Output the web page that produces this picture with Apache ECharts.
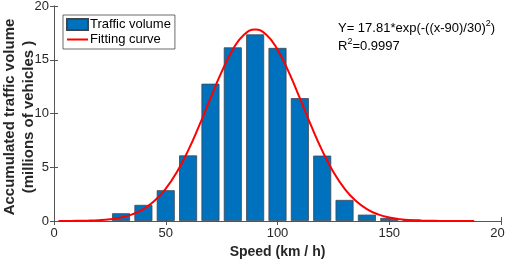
<!DOCTYPE html>
<html>
<head>
<meta charset="utf-8">
<script src="https://cdn.jsdelivr.net/npm/echarts@6/dist/echarts.min.js"></script>
<style>
  html, body { margin: 0; padding: 0; background: #fff; }
  #chart { width: 505px; height: 260px; }
</style>
</head>
<body>
<div id="chart"></div>
<script>
// bar data (speed bins, km/h) and volume in millions of vehicles
var speeds = [30, 40, 50, 60, 70, 80, 90, 100, 110, 120, 130, 140, 150, 160, 170];
var volumes = [0.72, 1.5, 2.86, 6.1, 12.77, 16.15, 17.36, 16.1, 11.43, 6.08, 1.96, 0.59, 0.28, 0.14, 0.06];

// fitted curve points
var curveSpeed = [2, 5, 10, 15, 20, 25, 30, 35, 40, 45, 50, 55, 60, 65, 70, 75, 80, 85, 90,
  95, 100, 105, 110, 115, 120, 125, 130, 135, 140, 145, 150, 155, 160, 165, 170, 175, 180, 185, 188];
var curveValue = [0.003, 0.006, 0.015, 0.034, 0.077, 0.163, 0.326, 0.618, 1.107, 1.877, 3.01, 4.567, 6.552, 8.894, 11.42, 13.87, 15.94, 17.32, 17.81,
  17.32, 15.94, 13.87, 11.42, 8.894, 6.552, 4.567, 3.01, 1.877, 1.107, 0.618, 0.326, 0.163, 0.077, 0.034, 0.015, 0.006, 0.002, 0.001, 0.0004];

var xTicks = [0, 50, 100, 150, 200];
var yTicks = [0, 5, 10, 15, 20];

var font = "Liberation Sans, Arial, sans-serif";
var chart = echarts.init(document.getElementById("chart"));

var barData = speeds.map(function (s, i) { return [s, volumes[i]]; });
var curveData = curveSpeed.map(function (s, i) { return [s, curveValue[i]]; });

var axisLine = { show: true, lineStyle: { color: "#555", width: 1 } };
var tick = { show: true, inside: true, length: 4, lineStyle: { color: "#555" } };

// thin line icon; the corner dots keep the path box at full item size
var lineIcon = "path://M0,0h0.01v0.01h-0.01Z M0,4.6H21V6.4H0Z M20.99,10.99h0.01v0.01h-0.01Z";

var option = {
  animation: false,
  grid: { left: 54, right: 4, top: 6, bottom: 39, containLabel: false, outerBoundsMode: "none" },
  legend: {
    orient: "vertical",
    left: 63,
    top: 15,
    padding: [3, 4, 3, 3],
    itemGap: 2,
    itemWidth: 21,
    itemHeight: 11,
    borderColor: "#444",
    borderWidth: 0.8,
    textStyle: { fontFamily: font, fontSize: 13, color: "#000", padding: [0, 0, 0, -3] },
    data: [
      { name: "Traffic volume", icon: "rect" },
      { name: "Fitting curve", icon: lineIcon }
    ]
  },
  xAxis: [
    {
      type: "value",
      min: xTicks[0],
      max: xTicks[xTicks.length - 1],
      interval: 50,
      position: "bottom",
      name: "Speed (km / h)",
      nameLocation: "middle",
      nameGap: 20,
      nameTextStyle: { fontFamily: font, fontSize: 14, fontWeight: "bold", color: "#262626" },
      axisLine: axisLine,
      axisTick: tick,
      splitLine: { show: false },
      axisLabel: { fontFamily: font, fontSize: 13, color: "#262626", margin: 6 }
    },
    {
      type: "value",
      min: xTicks[0],
      max: xTicks[xTicks.length - 1],
      interval: 50,
      position: "top",
      axisLine: axisLine,
      axisTick: tick,
      splitLine: { show: false },
      axisLabel: { show: false }
    }
  ],
  yAxis: [
    {
      type: "value",
      min: yTicks[0],
      max: yTicks[yTicks.length - 1],
      interval: 5,
      position: "left",
      axisLine: axisLine,
      axisTick: tick,
      splitLine: { show: false },
      axisLabel: { fontFamily: font, fontSize: 13, color: "#262626", margin: 5 }
    },
    {
      type: "value",
      min: yTicks[0],
      max: yTicks[yTicks.length - 1],
      interval: 5,
      position: "right",
      axisLine: axisLine,
      axisTick: tick,
      splitLine: { show: false },
      axisLabel: { show: false }
    }
  ],
  series: [
    {
      name: "Traffic volume",
      type: "bar",
      data: barData,
      barWidth: 18,
      itemStyle: { color: "#0072BD", borderColor: "#3c4650", borderWidth: 0.8 }
    },
    {
      name: "Fitting curve",
      type: "line",
      data: curveData,
      smooth: true,
      symbol: "none",
      lineStyle: { color: "#FF0000", width: 2 },
      itemStyle: { color: "#FF0000" }
    }
  ],
  graphic: [
    {
      // y axis title, two lines, rotated
      type: "text",
      x: 19,
      y: 117,
      rotation: Math.PI / 2,
      style: {
        text: "Accumulated traffic volume\n(millions of vehicles )",
        fontFamily: font,
        fontSize: 15,
        fontWeight: "bold",
        fill: "#262626",
        lineHeight: 19,
        align: "center",
        verticalAlign: "middle"
      }
    },
    {
      type: "text",
      left: 338,
      top: 19,
      style: {
        text: "{n|Y= 17.81*exp(-((x-90)/30)}{s|2}{n|)}",
        rich: {
          n: { fontFamily: font, fontSize: 13, fill: "#000", verticalAlign: "bottom" },
          s: { fontFamily: font, fontSize: 9, fill: "#000", padding: [0, 0, 7, 0], verticalAlign: "bottom" }
        }
      }
    },
    {
      type: "text",
      left: 338,
      top: 37,
      style: {
        text: "{n|R}{s|2}{n|=0.9997}",
        rich: {
          n: { fontFamily: font, fontSize: 13, fill: "#000", verticalAlign: "bottom" },
          s: { fontFamily: font, fontSize: 9, fill: "#000", padding: [0, 0, 7, 0], verticalAlign: "bottom" }
        }
      }
    }
  ]
};

chart.setOption(option);
</script>
</body>
</html>
